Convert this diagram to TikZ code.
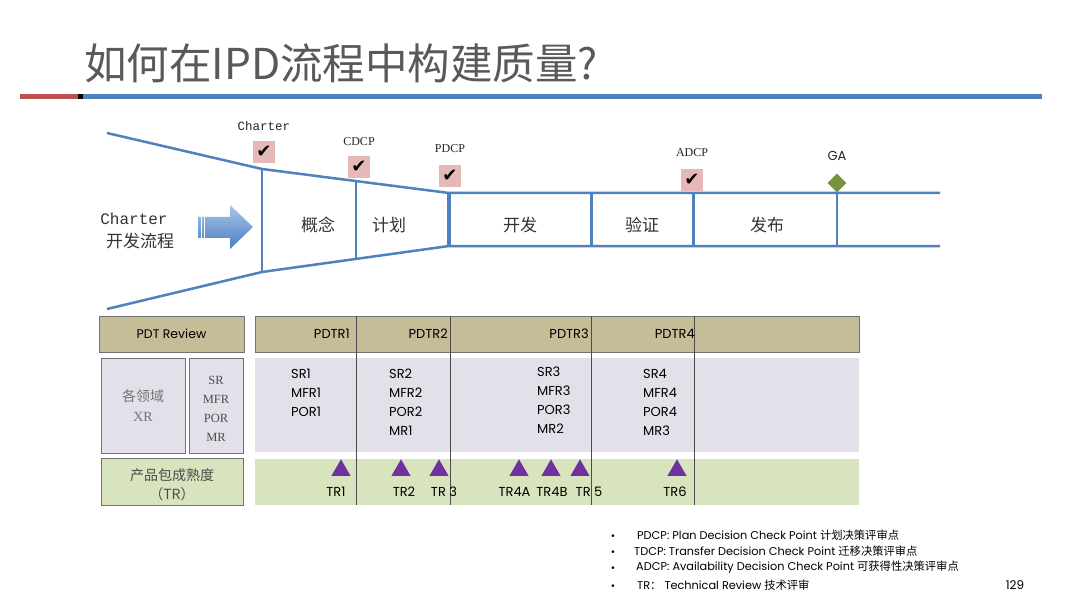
\documentclass[tikz,border=0pt]{standalone}
\usepackage{fontspec}
\setmainfont{Liberation Serif}
\newfontfamily\cjkfont{Noto Sans CJK SC}
\newfontfamily\geofont{Poppins}
\newfontfamily\monofont{Liberation Mono}
\newfontfamily\symfont{DejaVu Sans}
\usetikzlibrary{positioning,shapes.geometric}
\definecolor{ipdBlue}{HTML}{4F81BD}
\definecolor{ipdRed}{HTML}{C0504D}
\definecolor{ipdTitle}{HTML}{595959}
\definecolor{ipdPink}{HTML}{E6B9B8}
\definecolor{ipdGreen}{HTML}{77933C}
\definecolor{ipdKhaki}{HTML}{C4BD97}
\definecolor{ipdLav}{HTML}{E4E0EA}
\definecolor{ipdLime}{HTML}{D7E4BD}
\definecolor{ipdPurple}{HTML}{7030A0}
\definecolor{ipdArrowL}{HTML}{A9C6EA}
\definecolor{ipdArrowD}{HTML}{4A7EC0}
\tikzset{
  ipd-funnel/.style={draw=ipdBlue, line width=2.5pt},
  ipd-stage/.style={font=\cjkfont\fontsize{17}{17}\selectfont, text=black!80},
  ipd-check/.style={fill=ipdPink, minimum size=22pt, inner sep=0pt,
    font=\symfont\fontsize{18}{18}\selectfont},
  ipd-cp/.style={font=\fontsize{12}{12}\selectfont, text=black!85},
  ipd-cell/.style={draw=black!55, line width=0.8pt, inner sep=0pt},
  ipd-head/.style={ipd-cell, fill=ipdKhaki},
  ipd-gray/.style={ipd-cell, fill=ipdLav},
  ipd-lime/.style={ipd-cell, fill=ipdLime},
  ipd-txt/.style={font=\geofont\fontsize{13}{19}\selectfont, inner sep=0pt},
  ipd-tri/.style={regular polygon, regular polygon sides=3, fill=ipdPurple,
    minimum size=22pt, inner sep=0pt, anchor=south},
  ipd-note/.style={font=\geofont\fontsize{11.3}{11.3}\selectfont,
    anchor=west, inner sep=0pt},
  ipd-dot/.style={font=\symfont\fontsize{9}{9}\selectfont, inner sep=0pt},
  ipd-div/.style={draw=black!70, line width=0.8pt}
}
\begin{document}
\begin{tikzpicture}[x=1pt, y=-1pt]
\useasboundingbox (0,0) rectangle (1080,607);
\fill[white] (0,0) rectangle (1080,607);

% Title
\node[anchor=base west, inner sep=0pt, text=ipdTitle,
  font=\cjkfont\fontsize{42.5}{42.5}\selectfont] (title) at (84,80)
  {如何在IPD流程中构建质量?};
\fill[ipdRed] (20,94.5) rectangle (78,99.5);
\fill[black] (78,94.5) rectangle (83,99.5);
\fill[ipdBlue] (83,94.5) rectangle (1042,99.5);

% Funnel
\coordinate (t0) at (107,133);
\coordinate (t1) at (262,169);
\coordinate (t2) at (356,181);
\coordinate (t3) at (449,193);
\coordinate (t4) at (940,193);
\coordinate (b0) at (107,309);
\coordinate (b1) at (262,272);
\coordinate (b2) at (356,259);
\coordinate (b3) at (449,246);
\coordinate (b4) at (940,246);
\draw[ipd-funnel] (t0) -- (t1) -- (t3) -- (t4);
\draw[ipd-funnel] (b0) -- (b1) -- (b3) -- (b4);
\draw[ipd-funnel] (t1) -- (b1);
\draw[ipd-funnel] (t2) -- (b2);
\draw[ipd-funnel, line width=3.5pt] (t3) -- (b3);
\draw[ipd-funnel, line width=3pt] (591,193) -- (591,246);
\draw[ipd-funnel, line width=3pt] (693,193) -- (693,246);
\draw[ipd-funnel] (837,193) -- (837,247);

% Stages
\node[ipd-stage] (concept) at (318,225) {概念};
\node[ipd-stage] (plan) at (389,225) {计划};
\node[ipd-stage] (develop) at (520,225) {开发};
\node[ipd-stage] (verify) at (642,225) {验证};
\node[ipd-stage] (release) at (767,225) {发布};

% Charter
\node[font=\monofont\fontsize{16}{16}\selectfont, text=black!80] (chTxt)
  at (134,219) {Charter};
\node[ipd-stage] (chFlow) at (140,241) {开发流程};
\shade[top color=ipdArrowL, bottom color=ipdArrowD]
  (198,217) -- (230,217) -- (230,205) -- (253,227) -- (230,249)
  -- (230,238) -- (198,238) -- cycle;
\draw[white, line width=0.6pt] (201,217) -- (201,238) (204,217) -- (204,238);

% Check points
\node[ipd-check] (chkCharter) at (264,152) {✔};
\node[ipd-check] (chkCDCP) at (359,167) {✔};
\node[ipd-check] (chkPDCP) at (450,176) {✔};
\node[ipd-check] (chkADCP) at (692,180) {✔};
\node[diamond, fill=ipdGreen, minimum size=19pt, inner sep=0pt] (ga)
  at (837,183) {};
\node[ipd-cp, font=\monofont\fontsize{12.5}{12.5}\selectfont,
  above=7pt of chkCharter] (lblCharter) {Charter};
\node[ipd-cp, above=6.5pt of chkCDCP] (lblCDCP) {CDCP};
\node[ipd-cp, above=8.5pt of chkPDCP] (lblPDCP) {PDCP};
\node[ipd-cp, above=8.5pt of chkADCP] (lblADCP) {ADCP};
\node[ipd-cp, font=\geofont\fontsize{13}{13}\selectfont,
  above=9pt of ga] (lblGA) {GA};

% Review table
\node[ipd-head, minimum width=145pt, minimum height=36pt,
  font=\geofont\fontsize{12.5}{12.5}\selectfont] (pdtRev) at (171.5,334)
  {PDT Review};
\node[ipd-head, minimum width=604pt, minimum height=36pt] (hdr)
  at (557,334) {};
\node[ipd-gray, minimum width=84pt, minimum height=95pt] (xrBox)
  at (143,405.5) {};
\node[ipd-gray, minimum width=54pt, minimum height=95pt] (srBox)
  at (216,405.5) {};
\node[fill=ipdLav, minimum width=604pt, minimum height=94pt,
  inner sep=0pt] (grayRow) at (557,405) {};
\node[ipd-lime, minimum width=142pt, minimum height=47pt] (trBox)
  at (172,481.5) {};
\node[fill=ipdLime, minimum width=604pt, minimum height=46pt,
  inner sep=0pt] (limeRow) at (557,482) {};
\foreach \x in {356,450,591,694}
  \draw[ipd-div] (\x,316) -- (\x,505);

\node[ipd-txt, anchor=east] (pdtr1) at (350,334) {PDTR1};
\node[ipd-txt, anchor=east] (pdtr2) at (448,334) {PDTR2};
\node[ipd-txt, anchor=east] (pdtr3) at (589,334) {PDTR3};
\node[ipd-txt, anchor=east] (pdtr4) at (695,334) {PDTR4};

\node[align=center, text=black!55, font=\fontsize{14}{20}\selectfont]
  (xrTxt) at (xrBox.center) {{\cjkfont 各领域}\\XR};
\node[align=center, text=black!70, font=\fontsize{12.5}{19}\selectfont]
  (srTxt) at (216,408.5) {SR\\MFR\\POR\\MR};
\node[align=center, text=black!70, font=\cjkfont\fontsize{14}{19}\selectfont]
  (trTxt) at (172,484.5) {产品包成熟度\\（TR）};

\node[ipd-txt, align=left, anchor=north west] (col1) at (291,369)
  {SR1\\MFR1\\POR1};
\node[ipd-txt, align=left, anchor=north west] (col2) at (389,369)
  {SR2\\MFR2\\POR2\\MR1};
\node[ipd-txt, align=left, anchor=north west] (col3) at (537,367)
  {SR3\\MFR3\\POR3\\MR2};
\node[ipd-txt, align=left, anchor=north west] (col4) at (643,369)
  {SR4\\MFR4\\POR4\\MR3};

% Technical reviews
\node[ipd-tri] (tri1) at (341,476) {};
\node[ipd-tri] (tri2) at (401,476) {};
\node[ipd-tri] (tri3) at (439,476) {};
\node[ipd-tri] (tri4a) at (519,476) {};
\node[ipd-tri] (tri4b) at (551,476) {};
\node[ipd-tri] (tri5) at (580,476) {};
\node[ipd-tri] (tri6) at (677,476) {};
\node[ipd-txt] (tr1) at (336,492) {TR1};
\node[ipd-txt] (tr2) at (404,492) {TR2};
\node[ipd-txt] (tr3) at (444,492) {TR 3};
\node[ipd-txt] (tr4a) at (514.5,492) {TR4A};
\node[ipd-txt] (tr4b) at (552,492) {TR4B};
\node[ipd-txt] (tr5) at (589,492) {TR 5};
\node[ipd-txt] (tr6) at (675,492) {TR6};

% Notes
\foreach \y in {537,553,569,587}
  \node[ipd-dot] at (613,\y) {•};
\node[ipd-note] (note1) at (637,535)
  {PDCP: Plan Decision Check Point {\cjkfont 计划决策评审点}};
\node[ipd-note] (note2) at (634,551)
  {TDCP: Transfer Decision Check Point {\cjkfont 迁移决策评审点}};
\node[ipd-note] (note3) at (636,567)
  {ADCP: Availability Decision Check Point {\cjkfont 可获得性决策评审点}};
\node[ipd-note] (note4) at (637,585)
  {TR{\cjkfont ：} Technical Review {\cjkfont 技术评审}};
\node[font=\geofont\fontsize{12}{12}\selectfont] (page) at (1015,585) {129};
\end{tikzpicture}
\end{document}
